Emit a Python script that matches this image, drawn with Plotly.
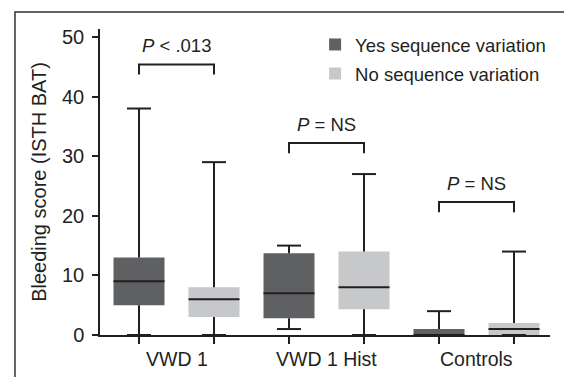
import plotly.graph_objects as go

categories = ["VWD 1", "VWD 1 Hist", "Controls"]
series_names = ["Yes sequence variation", "No sequence variation"]

yes_lower = [0, 1, 0]
yes_q1 = [5, 2.8, 0]
yes_median = [9, 7, 0]
yes_q3 = [13, 13.7, 1]
yes_upper = [38, 15, 4]

no_lower = [0, 0, 0]
no_q1 = [3, 4.3, 0]
no_median = [6, 8, 1]
no_q3 = [8, 14, 2]
no_upper = [29, 27, 14]

p_labels = ["<i>P</i> < .013", "<i>P</i> = NS", "<i>P</i> = NS"]
bracket_y = [45.4, 32.2, 22.3]

y_ticks = [0, 10, 20, 30, 40, 50]

DARK = "#5f6062"
LIGHT = "#c7c8ca"
INK = "#231f20"
FONT = "Liberation Sans, Arial, Helvetica, sans-serif"

BOX_W = 0.68
CAP_W = 0.32
LEG = 1.7

yes_x = [2 * i for i in range(len(categories))]
no_x = [2 * i + 1 for i in range(len(categories))]
group_center = [2 * i + 0.5 for i in range(len(categories))]

fig = go.Figure()


def add_series(xs, lower, q1, med, q3, upper, color, name):
    fig.add_trace(go.Box(
        x=xs, q1=q1, median=med, q3=q3, lowerfence=lower, upperfence=upper,
        fillcolor=color, line=dict(width=0, color=color), width=BOX_W,
        whiskerwidth=0.47, name=name, boxpoints=False, hoverinfo="skip",
        legendgroup=name,
    ))
    lx, ly = [], []
    for x, lo, a, m, b, hi in zip(xs, lower, q1, med, q3, upper):
        h = CAP_W / 2
        w = BOX_W / 2
        lx += [x - h, x + h, None, x, x, None]
        ly += [lo, lo, None, lo, a, None]
        lx += [x, x, None, x - h, x + h, None]
        ly += [b, hi, None, hi, hi, None]
        lx += [x - w, x + w, None]
        ly += [m, m, None]
    fig.add_trace(go.Scatter(
        x=lx, y=ly, mode="lines", line=dict(color=INK, width=2),
        showlegend=False, hoverinfo="skip", cliponaxis=False,
    ))


add_series(yes_x, yes_lower, yes_q1, yes_median, yes_q3, yes_upper, DARK, series_names[0])
add_series(no_x, no_lower, no_q1, no_median, no_q3, no_upper, LIGHT, series_names[1])

# significance brackets
bx, by = [], []
for xa, xb, yb in zip(yes_x, no_x, bracket_y):
    bx += [xa, xa, xb, xb, None]
    by += [yb - LEG, yb, yb, yb - LEG, None]
fig.add_trace(go.Scatter(
    x=bx, y=by, mode="lines", line=dict(color=INK, width=2),
    showlegend=False, hoverinfo="skip", cliponaxis=False,
))

for xc, yb, txt in zip(group_center, bracket_y, p_labels):
    fig.add_annotation(x=xc, y=yb + 3.2, xref="x", yref="y", text=txt,
                       showarrow=False, yanchor="middle",
                       font=dict(size=18.5, color=INK, family=FONT))

# category labels centred under each pair
for xc, name in zip(group_center, categories):
    fig.add_annotation(x=xc, y=-0.078, xref="x", yref="paper", text=name,
                       showarrow=False, yanchor="middle",
                       font=dict(size=19.5, color=INK, family=FONT))

# outer frame (cropped figure border)
fig.add_shape(type="rect", xref="paper", yref="paper",
              x0=-0.1889, x1=1.2, y0=-0.3, y1=1.0556,
              line=dict(color="#333333", width=1.5), fillcolor="rgba(0,0,0,0)")

fig.update_layout(
    width=564, height=377,
    margin=dict(l=100, r=14, t=29, b=42),
    paper_bgcolor="white", plot_bgcolor="white",
    boxmode="overlay",
    font=dict(family=FONT, size=19, color=INK),
    showlegend=True,
    legend=dict(x=0.478, y=1.01, xanchor="left", yanchor="top",
                font=dict(size=18.5, color=INK, family=FONT),
                tracegroupgap=2, bgcolor="rgba(0,0,0,0)"),
    xaxis=dict(range=[-0.52, 5.48], tickvals=yes_x + no_x, showticklabels=False,
               ticks="outside", ticklen=7, tickwidth=1.5, tickcolor=INK,
               showline=True, linecolor=INK, linewidth=1.5,
               showgrid=False, zeroline=False, fixedrange=True),
    yaxis=dict(range=[0, 51.34], tickvals=y_ticks,
               ticks="outside", ticklen=6, tickwidth=1.5, tickcolor=INK,
               showline=True, linecolor=INK, linewidth=1.5,
               showgrid=False, zeroline=False,
               tickfont=dict(size=20, color=INK, family=FONT),
               ticklabelstandoff=4,
               title=dict(text="Bleeding score (ISTH BAT)", standoff=10,
                          font=dict(size=20, color=INK, family=FONT))),
)

fig.write_html("out.html", config={"displayModeBar": False},
               post_script="document.body.style.margin='0px';")
